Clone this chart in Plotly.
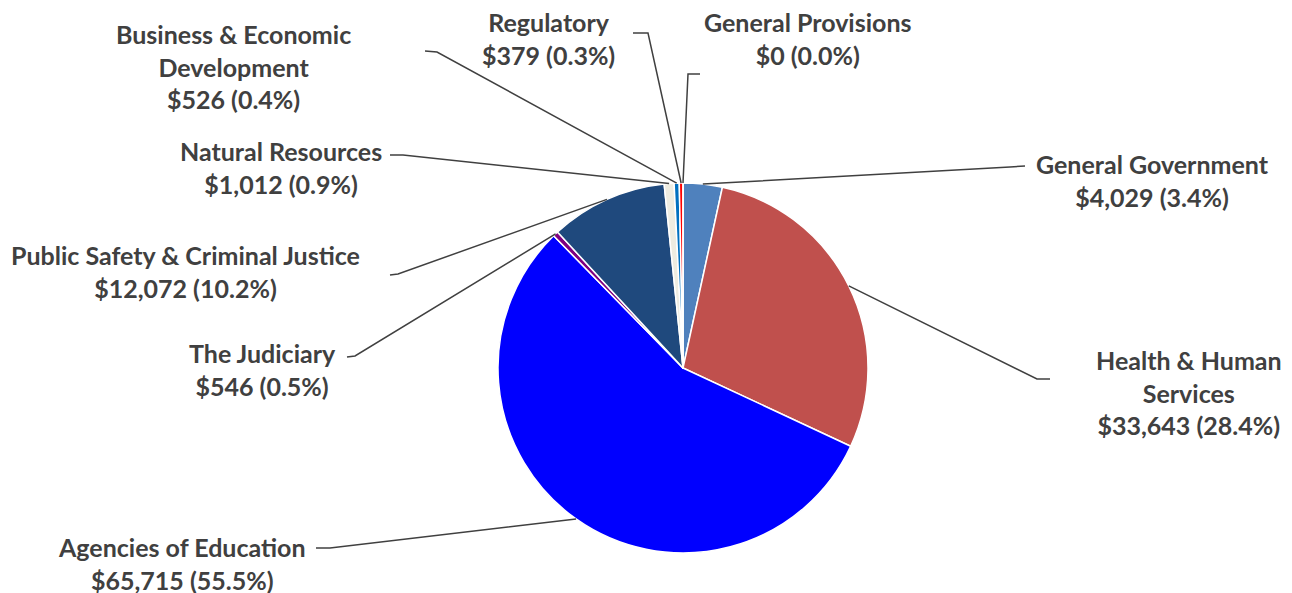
import math
import plotly.graph_objects as go

W, H = 1292, 593
OFF = 8  # default page body margin

categories = ["General Government", "Health & Human Services", "Agencies of Education",
              "The Judiciary", "Public Safety & Criminal Justice", "Natural Resources",
              "Business & Economic Development", "Regulatory", "General Provisions"]
values = [4029, 33643, 65715, 546, 12072, 1012, 526, 379, 0]
pct_labels = ["3.4%", "28.4%", "55.5%", "0.5%", "10.2%", "0.9%", "0.4%", "0.3%", "0.0%"]
display_names = ["General Government", "Health & Human<br>Services", "Agencies of Education",
                 "The Judiciary", "Public Safety & Criminal Justice", "Natural Resources",
                 "Business & Economic<br>Development", "Regulatory", "General Provisions"]
colors = ["#4F81BD", "#C0504D", "#0000FF", "#800080", "#1F497D", "#EEECE1",
          "#0070C0", "#FF0000", "#9BBB59"]

# layout (pixels, in page coordinates)
CX, CY, R = 683, 368, 185
label_pos = [(1152, 180), (1189, 392), (182, 563), (262, 370), (185, 271),
             (281, 168), (233, 66), (548, 38), (807, 38)]
elbows = [((1025, 166), (1010, 167)), ((1050, 379), (1037, 379)), ((316, 548), (330, 548)),
          ((347, 357), (355, 356)), ((390, 275), (398, 274)), ((390, 155), (403, 155)),
          ((425, 51), (437, 52)), ((633, 33), (648, 33)), ((700, 74), (688, 74))]

def px(x):
    return (x - OFF) / W

def py(y):
    return 1 - (y - OFF) / H

fig = go.Figure(go.Pie(
    labels=categories, values=values, sort=False, direction="clockwise", rotation=0,
    marker=dict(colors=colors, line=dict(color="white", width=1.5)),
    textinfo="none", hoverinfo="label+value+percent", showlegend=False,
    domain=dict(x=[px(CX - R), px(CX + R)], y=[py(CY + R), py(CY - R)]),
))

total = sum(values)
cum = 0
shapes = []
annotations = []
for i, v in enumerate(values):
    mid = (cum + v / 2) / total * 2 * math.pi
    cum += v
    ax = CX + R * math.sin(mid)
    ay = CY - R * math.cos(mid)
    (x0, y0), (x1, y1) = elbows[i]
    path = f"M {px(x0)},{py(y0)} L {px(x1)},{py(y1)} L {px(ax)},{py(ay)}"
    shapes.append(dict(type="path", path=path, xref="paper", yref="paper",
                       line=dict(color="#404040", width=1.5)))
    lx, ly = label_pos[i]
    annotations.append(dict(
        x=px(lx), y=py(ly), xref="paper", yref="paper", xanchor="center", yanchor="middle",
        text=f"<b>{display_names[i]}<br>${v:,} ({pct_labels[i]})</b>", showarrow=False,
        font=dict(family="Lato", size=25, color="#404040"), align="center"))

fig.update_layout(
    width=W, height=H, margin=dict(l=0, r=0, t=0, b=0),
    paper_bgcolor="white", plot_bgcolor="white",
    shapes=shapes, annotations=annotations,
)
fig.write_html("out.html")
